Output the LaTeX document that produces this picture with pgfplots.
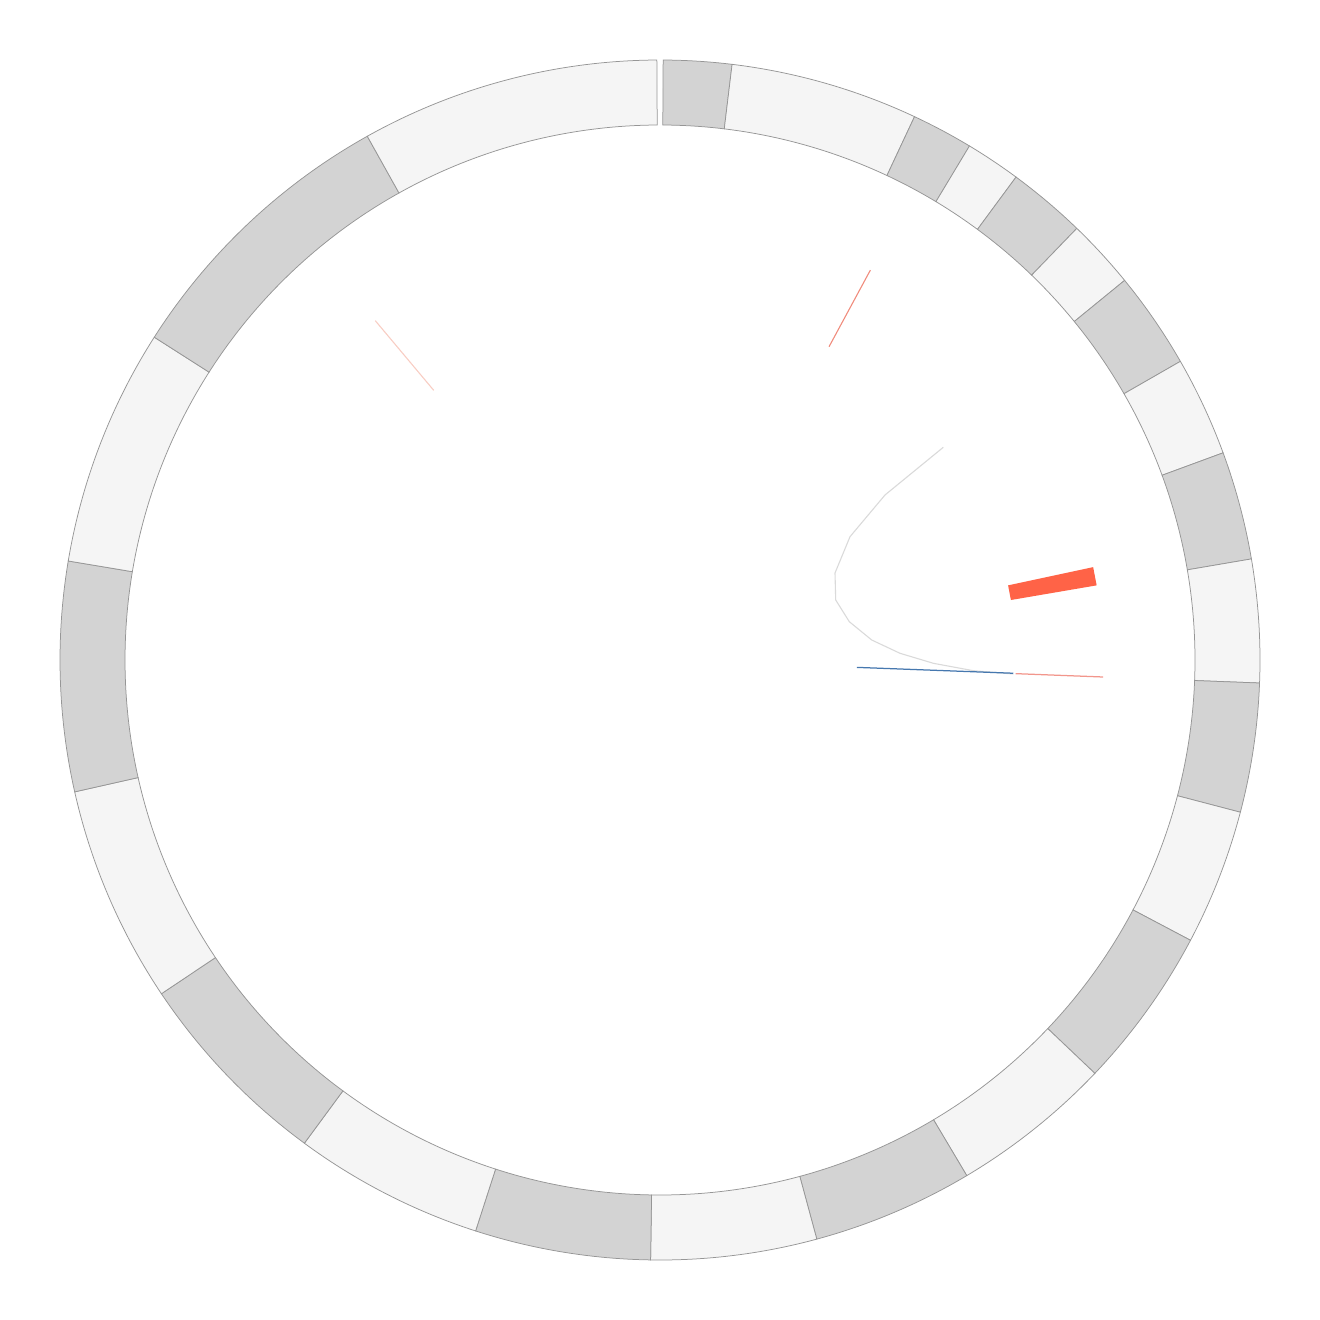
\documentclass[border=0pt]{standalone}
\usepackage{pgfplots}
\pgfplotsset{compat=1.18}
\usetikzlibrary{calc}
\definecolor{lightseg}{RGB}{245,245,245}
\definecolor{darkseg}{RGB}{211,211,211}
\definecolor{ringline}{RGB}{150,150,150}
\definecolor{barred}{RGB}{255,99,71}
\definecolor{linered}{RGB}{240,140,125}
\definecolor{palered}{RGB}{248,205,195}
\definecolor{coralline}{RGB}{242,150,140}
\definecolor{linkblue}{RGB}{70,120,175}
\definecolor{linkgray}{RGB}{218,218,218}
% ring segment: #1 start, #2 end (degrees clockwise from top), #3 colour
\newcommand{\seg}[3]{%
  \filldraw[fill=#3, draw=ringline, line width=0.15pt]
    ($(O)+({90-#1}:120pt)$) arc[start angle={90-#1}, end angle={90-#2}, radius=120pt]
    -- ($(O)+({90-#2}:107pt)$) arc[start angle={90-#2}, end angle={90-#1}, radius=107pt]
    -- cycle;}
\begin{document}
\begin{tikzpicture}
\begin{axis}[x=0.2pt, y=0.2pt, xmin=-660, xmax=660, ymin=-660, ymax=660,
  hide axis, clip=false]
\path (axis cs:-660,-660) rectangle (axis cs:660,660);
\coordinate (O) at (axis cs:0,0);
\seg{0.3}{6.9}{darkseg}
\seg{6.9}{25.1}{lightseg}
\seg{25.1}{31.05}{darkseg}
\seg{31.05}{36.4}{lightseg}
\seg{36.4}{44.0}{darkseg}
\seg{44.0}{50.75}{lightseg}
\seg{50.75}{60.15}{darkseg}
\seg{60.15}{69.8}{lightseg}
\seg{69.8}{80.3}{darkseg}
\seg{80.3}{92.2}{lightseg}
\seg{92.2}{104.7}{darkseg}
\seg{104.7}{117.85}{lightseg}
\seg{117.85}{133.55}{darkseg}
\seg{133.55}{149.25}{lightseg}
\seg{149.25}{164.85}{darkseg}
\seg{164.85}{180.9}{lightseg}
\seg{180.9}{197.9}{darkseg}
\seg{197.9}{216.35}{lightseg}
\seg{216.35}{236.2}{darkseg}
\seg{236.2}{257.3}{lightseg}
\seg{257.3}{279.5}{darkseg}
\seg{279.5}{302.55}{lightseg}
\seg{302.55}{330.8}{darkseg}
\seg{330.8}{359.7}{lightseg}
% link (gray curve)
\addplot[linkgray, line width=0.22pt] coordinates {
 (283.3,212.7) (225,165) (190,123.3) (175,87) (175.7,60) (189.3,38.3)
 (211.7,20) (240,6.7) (273.3,-3.3) (313.3,-10.7) (353.3,-14)};
% radial tracks (angle, radius)
\addplot[data cs=polar, linkblue, line width=0.25pt] coordinates {(-2.15,197) (-2.15,353.5)};
\addplot[data cs=polar, coralline, line width=0.25pt] coordinates {(-2.2,356) (-2.2,443.5)};
\addplot[data cs=polar, linered, line width=0.22pt] coordinates {(61.65,356) (61.65,443)};
\addplot[data cs=polar, palered, line width=0.22pt] coordinates {(130.0,352) (130.0,443)};
\addplot[data cs=polar, fill=barred, draw=none] coordinates {
 (9.7,356) (9.7,443) (12.1,443) (12.1,356) (9.7,356)};
\end{axis}
\end{tikzpicture}
\end{document}
